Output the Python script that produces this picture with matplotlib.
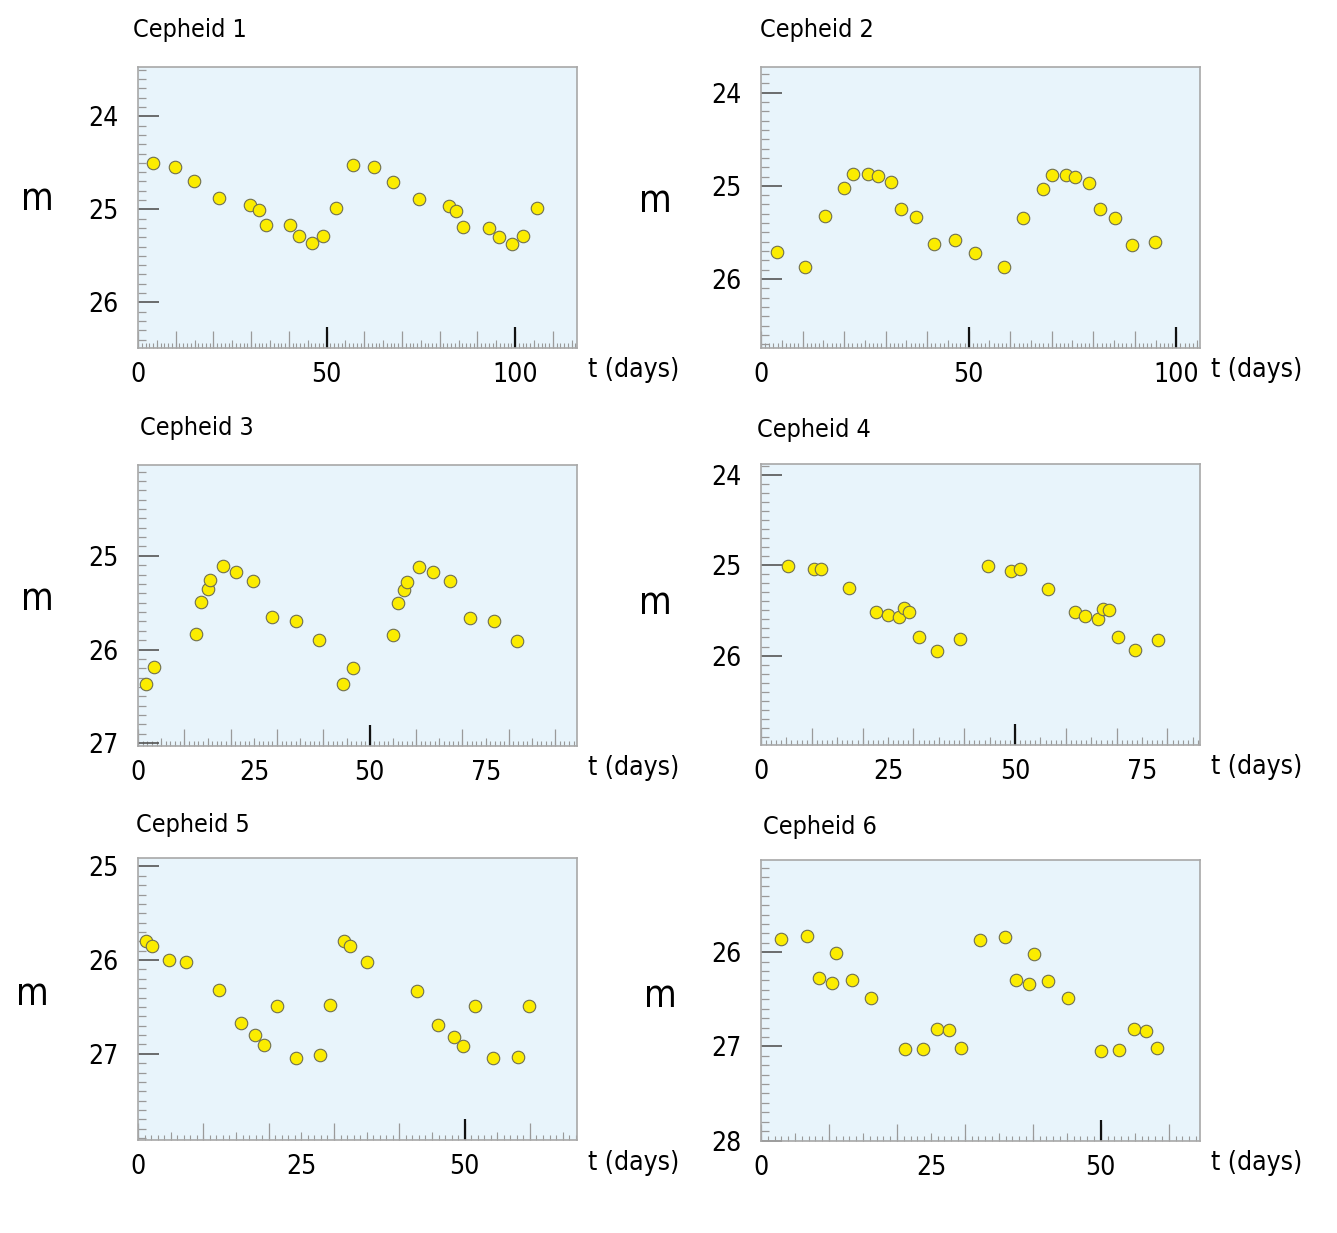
# -*- coding: utf-8 -*-

import matplotlib
matplotlib.use('Agg')
import matplotlib.pyplot as plt
from matplotlib.ticker import MultipleLocator, FixedLocator, NullFormatter, NullLocator

# light curves (t in days, m = apparent magnitude)
t1 = [4.1, 9.7, 14.8, 21.6, 29.8, 32.0, 34.0, 40.3, 42.6, 46.1, 49.0, 52.5,
      57.1, 62.6, 67.7, 74.5, 82.5, 84.3, 86.3, 93.1, 95.6, 99.1, 102.0, 105.7]
m1 = [24.50, 24.54, 24.70, 24.875, 24.95, 25.01, 25.17, 25.17, 25.29, 25.36, 25.29, 24.99,
      24.52, 24.55, 24.71, 24.89, 24.96, 25.02, 25.19, 25.20, 25.30, 25.37, 25.29, 24.99]

t2 = [3.85, 10.5, 15.3, 20.1, 22.2, 25.8, 28.1, 31.3, 33.8, 37.4, 41.6, 46.8,
      51.6, 58.4, 63.2, 67.9, 70.0, 73.4, 75.7, 78.9, 81.7, 85.2, 89.3, 94.8]
m2 = [25.71, 25.87, 25.32, 25.02, 24.87, 24.87, 24.895, 24.96, 25.25, 25.33, 25.62, 25.58,
      25.72, 25.875, 25.34, 25.03, 24.88, 24.88, 24.90, 24.97, 25.25, 25.34, 25.64, 25.60]

t3 = [1.7, 3.5, 12.5, 13.5, 15.0, 15.6, 18.3, 21.1, 24.8, 29.0, 34.1, 39.1,
      44.3, 46.3, 55.1, 56.1, 57.3, 58.0, 60.6, 63.6, 67.3, 71.7, 76.9, 81.8]
m3 = [26.37, 26.19, 25.83, 25.49, 25.35, 25.26, 25.11, 25.17, 25.27, 25.65, 25.70, 25.90,
      26.37, 26.20, 25.85, 25.50, 25.36, 25.28, 25.12, 25.17, 25.27, 25.66, 25.70, 25.91]

t4 = [5.25, 10.4, 11.8, 17.3, 22.7, 24.9, 27.2, 28.2, 29.2, 31.0, 34.7, 39.1,
      44.6, 49.3, 51.0, 56.4, 61.8, 63.7, 66.3, 67.4, 68.4, 70.2, 73.6, 78.2]
m4 = [25.01, 25.04, 25.04, 25.25, 25.52, 25.55, 25.575, 25.47, 25.52, 25.79, 25.945, 25.815,
      25.01, 25.06, 25.04, 25.26, 25.52, 25.56, 25.59, 25.48, 25.50, 25.79, 25.94, 25.83]

t5 = [1.2, 2.2, 4.7, 7.4, 12.35, 15.7, 17.9, 19.3, 21.3, 24.2, 27.8, 29.35,
      31.5, 32.5, 35.1, 42.7, 45.95, 48.3, 49.7, 51.6, 54.4, 58.2, 59.8]
m5 = [25.80, 25.85, 26.00, 26.02, 26.32, 26.67, 26.80, 26.91, 26.49, 27.04, 27.01, 26.48,
      25.80, 25.85, 26.02, 26.33, 26.69, 26.82, 26.92, 26.49, 27.04, 27.03, 26.49]

t6 = [3.0, 6.75, 8.5, 10.5, 11.1, 13.4, 16.25, 21.2, 23.85, 25.95, 27.7, 29.4,
      32.2, 35.85, 37.5, 39.45, 40.2, 42.3, 45.15, 50.1, 52.7, 54.9, 56.7, 58.3]
m6 = [25.86, 25.83, 26.275, 26.33, 26.01, 26.29, 26.49, 27.03, 27.03, 26.81, 26.83, 27.02,
      25.875, 25.84, 26.30, 26.34, 26.02, 26.31, 26.49, 27.05, 27.04, 26.82, 26.84, 27.02]

names = ['Cepheid 1', 'Cepheid 2', 'Cepheid 3', 'Cepheid 4', 'Cepheid 5', 'Cepheid 6']
times = [t1, t2, t3, t4, t5, t6]
mags = [m1, m2, m3, m4, m5, m6]

# axis ranges (magnitude axis is inverted)
tmax = [116.4, 105.7, 94.7, 86.4, 67.2, 64.6]
mlim = [(26.49, 23.47), (26.74, 23.725), (27.03, 24.03),
        (26.99, 23.88), (27.92, 24.91), (28.005, 25.02)]
tstep = [50, 50, 25, 25, 25, 25]

W, H = 1337, 1233
# axes boxes in pixels: left, top, right, bottom
boxes = [(138, 67, 577, 348), (761, 67, 1200, 348),
         (138, 465, 577, 746), (761, 464, 1200, 745),
         (138, 858, 577, 1140), (761, 860, 1200, 1141)]
title_pos = [(133, 30), (760, 30), (140, 428), (757, 430), (136, 825), (763, 827)]
m_pos = [(37, 200), (655, 202), (37, 600), (655, 604), (32, 995), (660, 997)]

bg = '#e8f4fb'
edge = '#a8a8a8'
dot = '#fbec00'

plt.rcParams['font.family'] = ['DejaVu Sans']
plt.rcParams['font.stretch'] = 'condensed'


def fx(px):
    return px / W


def fy(py):
    return 1 - py / H


def main():
    fig = plt.figure(figsize=(W / 100, H / 100), dpi=100, facecolor='w')

    for i in range(6):
        l, t, r, b = boxes[i]
        ax = fig.add_axes([fx(l), fy(b), (r - l) / W, (b - t) / H])
        ax.set_facecolor(bg)
        for s in ax.spines.values():
            s.set_color(edge)
            s.set_linewidth(1.2)

        ax.plot(times[i], mags[i], 'o', ms=9, mfc=dot, mec='#6f6f50', mew=0.8,
                linestyle='none', zorder=5)

        ax.set_xlim(0, tmax[i])
        ax.set_ylim(*mlim[i])

        # time axis: black ticks at 50, grey ticks every day
        ax.xaxis.set_major_locator(FixedLocator([50, 100]))
        ax.xaxis.set_minor_locator(MultipleLocator(1))
        ax.xaxis.set_major_formatter(NullFormatter())
        ax.tick_params(axis='x', which='major', direction='in', length=15, width=1.6,
                       color='#111111', labelbottom=False)
        ax.tick_params(axis='x', which='minor', direction='in', length=3.5, width=0.8,
                       color='#999999')

        # 10 and 5 day ticks
        sec = ax.secondary_xaxis('bottom')
        sec.xaxis.set_major_locator(MultipleLocator(10))
        sec.xaxis.set_minor_locator(MultipleLocator(5))
        sec.xaxis.set_major_formatter(NullFormatter())
        sec.xaxis.set_minor_formatter(NullFormatter())
        sec.tick_params(which='major', direction='in', length=12, width=0.9,
                        color='#9a9a9a', labelbottom=False)
        sec.tick_params(which='minor', direction='in', length=6, width=0.8,
                        color='#9a9a9a')
        sec.spines['bottom'].set_visible(False)

        # labels for time axis
        lab = ax.secondary_xaxis('bottom')
        lab.xaxis.set_major_locator(MultipleLocator(tstep[i]))
        lab.xaxis.set_minor_locator(NullLocator())
        lab.tick_params(which='both', length=0, pad=10, labelsize=19)
        lab.spines['bottom'].set_visible(False)

        # magnitude axis
        ax.yaxis.set_major_locator(MultipleLocator(1))
        ax.yaxis.set_minor_locator(MultipleLocator(0.1))
        ax.tick_params(axis='y', which='major', direction='in', length=15, width=1.2,
                       color='#555555', pad=14, labelsize=19)
        ax.tick_params(axis='y', which='minor', direction='in', length=6, width=0.9,
                       color='#999999')

        ax.text(1.025, -0.08, 't (days)', transform=ax.transAxes, fontsize=19,
                ha='left', va='center')

        fig.text(fx(title_pos[i][0]), fy(title_pos[i][1]), names[i], fontsize=18,
                 ha='left', va='center')
        fig.text(fx(m_pos[i][0]), fy(m_pos[i][1]), 'm', fontsize=27,
                 ha='center', va='center')

    fig.savefig('out.png', dpi=100, facecolor='w')


if __name__ == '__main__':
    main()
